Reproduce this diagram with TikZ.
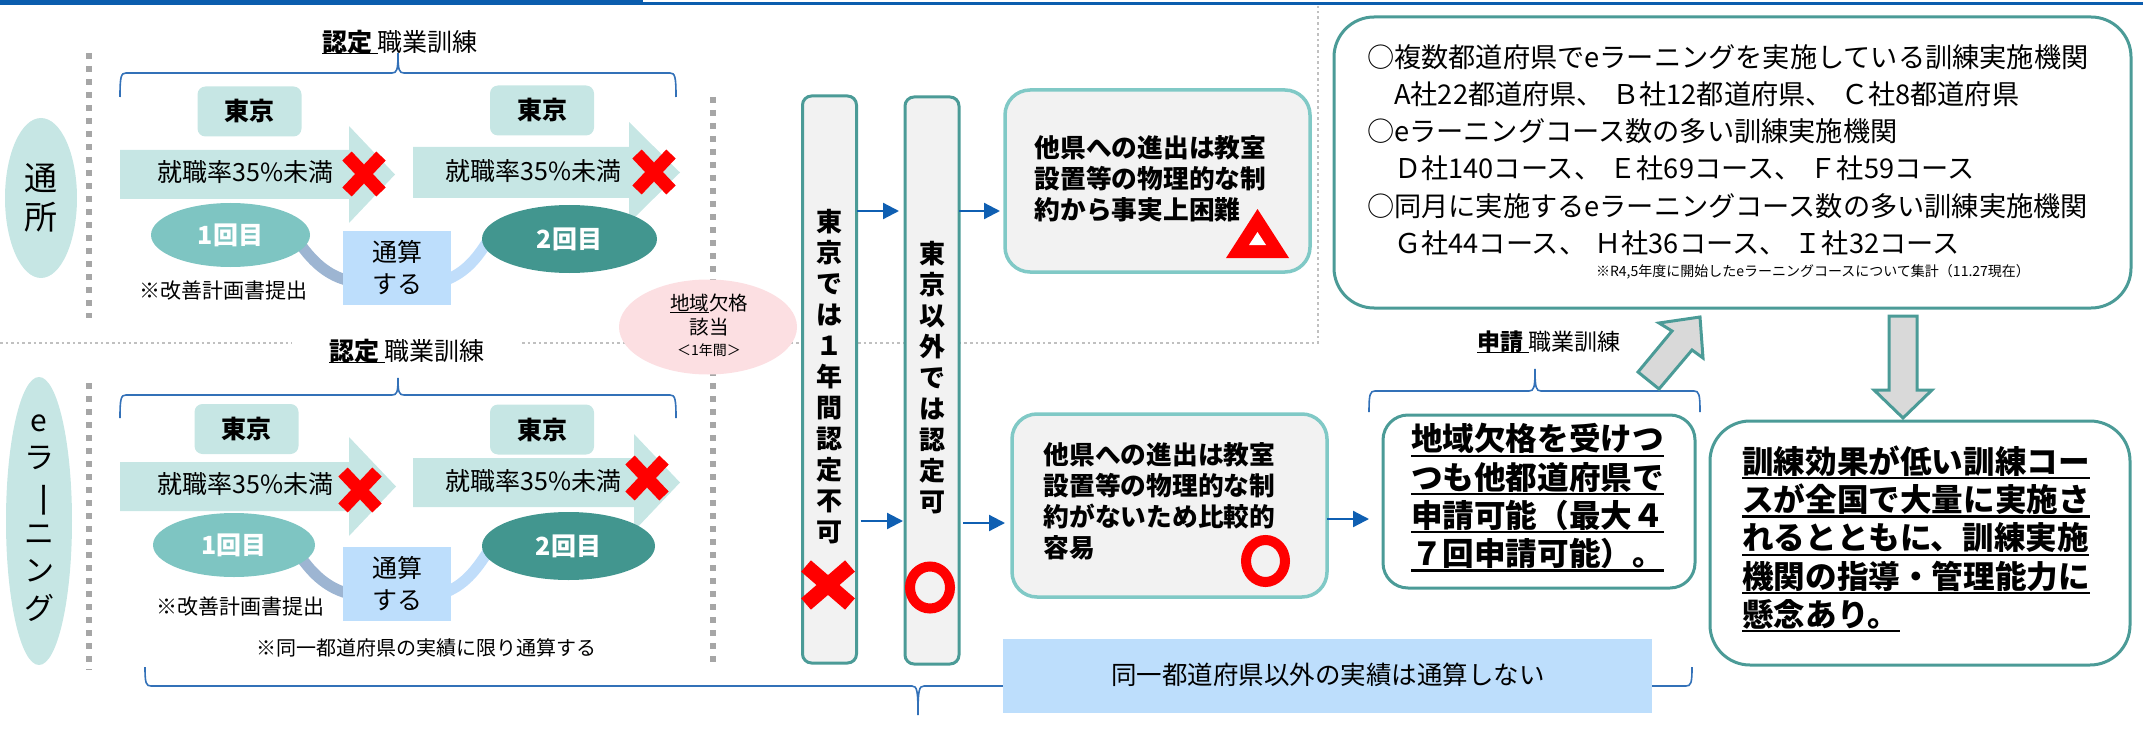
\documentclass[tikz,border=0pt]{standalone}
\usepackage{fontspec}
\usepackage{graphicx}
\setmainfont{Noto Sans CJK JP}
\usetikzlibrary{shapes.geometric,arrows.meta}
\definecolor{tealL}{HTML}{C6E6E4}
\definecolor{tealA}{HTML}{7EC5C2}
\definecolor{tealD}{HTML}{42968F}
\definecolor{lblue}{HTML}{BDDEFC}
\definecolor{pinkL}{HTML}{FCDFE2}
\definecolor{tealB}{HTML}{4B9B97}
\definecolor{tealLB}{HTML}{80C9C6}
\definecolor{grayF}{HTML}{F2F2F2}
\definecolor{arrB}{HTML}{0F5FB2}
\definecolor{braceC}{HTML}{3371B8}
\definecolor{dashG}{HTML}{A6A6A6}
\definecolor{dotG}{HTML}{C0C0C0}
\definecolor{xred}{HTML}{FF0000}
\definecolor{topblue}{HTML}{0B5DAE}
\definecolor{bandL}{HTML}{9DB5D2}
\definecolor{bandR}{HTML}{C0DDFA}
\definecolor{arrowG}{HTML}{D9D9D9}
\newcommand{\ulx}[3]{\setbox0=\hbox{#3}\rlap{\rule[#1]{\wd0}{#2}}\box0}
\newcommand{\myul}[1]{\ulx{-0.19em}{0.07em}{#1}}
\newcommand{\hbrace}[6]{%
 \draw[bracec] (#1,#3+#4) .. controls (#1,#3+0.15*#4) and (#1+1,#3) .. (#1+6,#3) -- (#6-6,#3)
   .. controls (#6-1,#3) and (#6,#3+0.15*#5) .. (#6,#3+#5)
   .. controls (#6,#3+0.15*#5) and (#6+1,#3) .. (#6+6,#3) -- (#2-6,#3)
   .. controls (#2-1,#3) and (#2,#3+0.15*#4) .. (#2,#3+#4);}
\newcommand{\redX}[5]{\draw[xred, line width=#5pt] (#1-#3,#2-#4) -- (#1+#3,#2+#4) (#1-#3,#2+#4) -- (#1+#3,#2-#4);}
\begin{document}
\begin{tikzpicture}[x=1pt,y=-1pt,
  every node/.style={inner sep=0pt, outer sep=0pt},
  bracec/.style={draw=braceC, line width=1.6pt},
  thickdash/.style={draw=dashG, line width=5.5pt, dash pattern=on 6pt off 7pt},
  finedot/.style={draw=dotG, line width=2pt, dash pattern=on 2.6pt off 3pt},
  tkbox/.style={rectangle, rounded corners=8pt, fill=tealL, minimum width=104pt, minimum height=50pt, font=\fontsize{25}{30}\selectfont\bfseries},
  rate/.style={font=\fontsize{25}{30}\selectfont},
  cnt/.style={ellipse, font=\fontsize{25}{30}\selectfont\bfseries, text=white},
  tsbox/.style={rectangle, fill=lblue, minimum width=108pt, minimum height=74pt, align=center, font=\fontsize{25}{32}\selectfont},
  note/.style={font=\fontsize{21}{26}\selectfont},
  vbox/.style={rectangle, rounded corners=9pt, draw=tealB, line width=3pt, fill=grayF, minimum width=54pt, minimum height=567pt},
  vtext/.style={align=center, font=\fontsize{26}{31}\selectfont\bfseries},
  gbox/.style={rectangle, rounded corners=25pt, draw=tealLB, line width=3.5pt, fill=grayF},
  wbox/.style={rectangle, draw=tealB, line width=3pt, fill=white},
  gtext/.style={align=left, font=\fontsize{25.7}{31.2}\selectfont\bfseries},
  btext/.style={align=left, font=\fontsize{31.6}{38.2}\selectfont\bfseries},
  barrow/.style={draw=arrB, line width=2.2pt, -{Triangle[length=16pt,width=16pt]}},
  blockar/.style={fill=arrowG, draw=tealB, line width=3pt, line join=miter}
]
\useasboundingbox (0,0) rectangle (2143,738);
% top bar
\fill[topblue] (0,0) rectangle (643,5.5);
\fill[topblue] (643,2) rectangle (2143,5.5);

% separators
\draw[finedot] (0,343) -- (292,343);
\draw[finedot] (522,343) -- (1318,343) -- (1318,6);
\draw[thickdash] (89,53) -- (89,318);
\draw[thickdash] (89,383) -- (89,670);
\draw[thickdash] (713,97) -- (713,662);

% braces
\hbrace{120}{676}{73}{24}{-20}{398}
\hbrace{120}{676}{395}{23}{-17}{398}
\hbrace{1369}{1700}{391}{21}{-22}{1535}
\hbrace{145}{1692}{686}{-19}{29}{918}

% titles
\node[font=\fontsize{25}{30}\selectfont] (t1) at (400,42) {\ulx{-0.12em}{0.06em}{\bfseries 認定\ }職業訓練};
\node[font=\fontsize{25}{30}\selectfont] (t2) at (407,351) {\ulx{-0.12em}{0.06em}{\bfseries 認定\ }職業訓練};
\node[font=\fontsize{23}{28}\selectfont] (t3) at (1549,342) {\ulx{-0.12em}{0.06em}{\bfseries 申請\ }職業訓練};

% left ovals
\node[ellipse, fill=tealL, minimum width=72pt, minimum height=160pt] (o1) at (41,198) {};
\node[align=center, font=\fontsize{33}{39}\selectfont] (o1t) at (o1.center) {通\\所};
\node[ellipse, fill=tealL, minimum width=66pt, minimum height=288pt] (o2) at (39,521) {};
\node[align=center, font=\fontsize{30}{37.6}\selectfont] (o2t) at (39,518) {e\\ラ\\\rotatebox[origin=c]{-90}{\scalebox{1.25}[1]{ー}}\\ニ\\ン\\グ};

% block arrows row 1
\fill[tealL] (120,150) -- (349,150) -- (349,126) -- (395,174.5) -- (349,223) -- (349,199) -- (120,199) -- cycle;
\fill[tealL] (413,147) -- (629,147) -- (629,122) -- (680,172.5) -- (629,223) -- (629,198) -- (413,198) -- cycle;
% block arrows row 2
\fill[tealL] (120,462) -- (349,462) -- (349,437) -- (396,486.5) -- (349,536) -- (349,511) -- (120,511) -- cycle;
\fill[tealL] (413,458) -- (634,458) -- (634,434) -- (680,482.5) -- (634,531) -- (634,507) -- (413,507) -- cycle;

% bands
\draw[bandL, line width=11pt] (296,238) .. controls (312,262) and (328,276) .. (350,281);
\draw[bandR, line width=11pt] (446,280) .. controls (466,272) and (478,258) .. (492,234);
\draw[bandL, line width=11pt] (298,553) .. controls (314,577) and (330,589) .. (350,594);
\draw[bandR, line width=11pt] (446,592) .. controls (466,584) and (478,568) .. (492,545);

% row 1
\node[tkbox] (tk1) at (249.5,111.5) {東京};
\node[tkbox] (tk2) at (542,110.5) {東京};
\node[rate] (r1) at (245.5,172) {就職率35\%未満};
\node[rate] (r2) at (533.5,171) {就職率35\%未満};
\node[cnt, fill=tealA, minimum width=159pt, minimum height=64pt] (e1) at (230.5,235) {1回目};
\node[cnt, fill=tealD, minimum width=175pt, minimum height=68pt] (e2) at (569.5,239) {2回目};
\node[tsbox] (b1) at (397,267.5) {通算\\する};
\node[note] (n1) at (223,291) {※改善計画書提出};
\redX{364}{174}{17}{18}{13}
\redX{654}{172}{17}{18}{13}

% row 2
\node[tkbox] (tk3) at (246.5,429) {東京};
\node[tkbox] (tk4) at (542,429.5) {東京};
\node[rate] (r3) at (245.5,484) {就職率35\%未満};
\node[rate] (r4) at (533.5,481) {就職率35\%未満};
\node[cnt, fill=tealA, minimum width=162pt, minimum height=64pt] (e3) at (234,545) {1回目};
\node[cnt, fill=tealD, minimum width=173pt, minimum height=68pt] (e4) at (568.5,546) {2回目};
\node[tsbox] (b2) at (397,584) {通算\\する};
\node[note] (n2) at (240,607) {※改善計画書提出};
\node[font=\fontsize{20}{24}\selectfont] (n3) at (426,648) {※同一都道府県の実績に限り通算する};
\redX{360}{490}{17}{18}{13}
\redX{647}{478}{17}{18}{13}

% pink ellipse
\node[ellipse, fill=pinkL, minimum width=178pt, minimum height=95pt] (pk) at (708,327) {};
\node[align=center, font=\fontsize{19.5}{24}\selectfont] (pkt) at (709,315) {\ulx{-0.15em}{0.06em}{地域}欠格\\該当};
\node[font=\fontsize{14}{17}\selectfont] (pks) at (709,350) {＜1年間＞};

% vertical boxes
\node[vbox] (v1) at (829.5,379.5) {};
\node[vtext] (v1t) at (829.5,377) {東\\京\\で\\は\\１\\年\\間\\認\\定\\不\\可};
\node[vbox] (v2) at (932,380.5) {};
\node[vtext] (v2t) at (932,377.5) {東\\京\\以\\外\\で\\は\\認\\定\\可};
\redX{828}{585}{22}{19}{15}
\draw[xred, line width=10pt] (930,587.5) ellipse [x radius=20, y radius=21];

% gray boxes
\node[gbox, minimum width=305pt, minimum height=182pt] (g1) at (1157.5,181) {};
\node[gtext] (g1t) at (1150.5,178.5) {他県への進出は教室\\設置等の物理的な制\\約から事実上困難};
\fill[xred] (1226,258) -- (1289,258) -- (1257.5,209) -- cycle;
\fill[white] (1249,245) -- (1266,245) -- (1257.5,232) -- cycle;
\node[gbox, minimum width=315pt, minimum height=183pt] (g2) at (1169.5,505.5) {};
\node[gtext] (g2t) at (1159.5,501.5) {他県への進出は教室\\設置等の物理的な制\\約がないため比較的\\容易};
\draw[xred, line width=10pt] (1265.5,561) ellipse [x radius=19.5, y radius=21];

% small arrows
\coordinate (ya) at (0,211);
\coordinate (yb) at (0,521);
\coordinate (yc) at (0,523);
\coordinate (yd) at (0,519);
\draw[barrow, shorten >=6pt] (v1.east |- ya) -- (v2.west |- ya);
\draw[barrow, shorten >=5pt] (v2.east |- ya) -- (g1.west |- ya);
\draw[barrow, shorten <=4pt, shorten >=2pt] (v1.east |- yb) -- (v2.west |- yb);
\draw[barrow, shorten <=4pt, shorten >=7pt] (v2.east |- yc) -- (g2.west |- yc);

% bottom blue box
\node[rectangle, fill=lblue, minimum width=649pt, minimum height=74pt] (bb) at (1327.5,676) {};
\node[font=\fontsize{25.5}{30}\selectfont] (bbt) at (1328,675) {同一都道府県以外の実績は通算しない};

% application box
\node[wbox, rounded corners=25pt, minimum width=312pt, minimum height=173pt] (ap) at (1539,501.5) {};
\node[btext] (apt) at (1537.5,497.5) {\myul{地域欠格を受けつ}\\\myul{つも他都道府県で}\\\myul{申請可能（最大４}\\\myul{７回申請可能）。}};
\draw[barrow, shorten >=14pt] (g2.east |- yd) -- (ap.west |- yd);

% top right box
\node[wbox, rounded corners=40pt, minimum width=797pt, minimum height=291pt] (tr) at (1732.5,162.5) {};
\node[anchor=west, align=left, font=\fontsize{27.2}{37.2}\selectfont] (trt) at (1367,150) {○複数都道府県でeラーニングを実施している訓練実施機関\\　A社22都道府県、\hspace{0.3em}Ｂ社12都道府県、\hspace{0.3em}Ｃ社8都道府県\\○eラーニングコース数の多い訓練実施機関\\　Ｄ社140コース、\hspace{0.3em}Ｅ社69コース、\hspace{0.3em}Ｆ社59コース\\○同月に実施するeラーニングコース数の多い訓練実施機関\\　Ｇ社44コース、\hspace{0.3em}Ｈ社36コース、\hspace{0.3em}Ｉ社32コース};
\node[anchor=west, font=\fontsize{14}{17}\selectfont] (trn) at (1596,272) {※R4,5年度に開始したeラーニングコースについて集計（11.27現在）};

% bottom right box
\node[wbox, rounded corners=40pt, minimum width=420pt, minimum height=244pt] (br) at (1920,543) {};
\node[btext] (brt) at (1916,539) {\myul{訓練効果が低い訓練コー}\\\myul{スが全国で大量に実施さ}\\\myul{れるとともに、訓練実施}\\\myul{機関の指導・管理能力に}\\\myul{懸念あり。}};

% big block arrows
\filldraw[blockar] (1700,317) -- (1703,358) -- (1692,350) -- (1659,389) -- (1638,372) -- (1672,331) -- (1659,323) -- cycle;
\filldraw[blockar] (1889,316) -- (1917,316) -- (1917,390) -- (1932,390) -- (1903,418) -- (1874,390) -- (1889,390) -- cycle;
\end{tikzpicture}
\end{document}
